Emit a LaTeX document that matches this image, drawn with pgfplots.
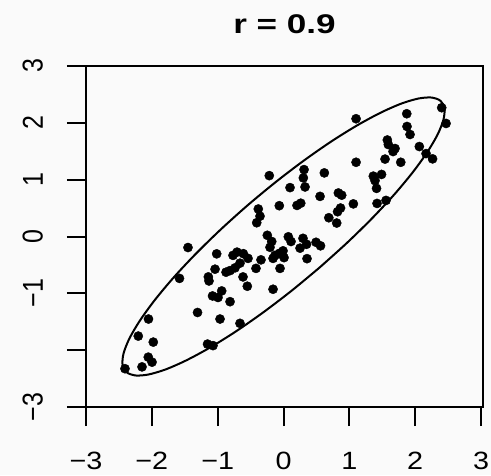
\documentclass[border=0pt]{standalone}
\usepackage{fontspec}
\setmainfont{Liberation Sans}
\usepackage{graphicx}
\usepackage{pgfplots}
\pgfplotsset{compat=1.18}
\definecolor{bg}{RGB}{250,250,250}

% tick labels are drawn slightly wide, as in R's device output
\newcommand{\xl}[1]{\scalebox{1.15}[1]{#1}}
\newcommand{\yl}[1]{\scalebox{1}[1.15]{#1}}

\begin{document}
\begin{tikzpicture}
\fill[bg] (0pt,0pt) rectangle (491pt,475pt);
\useasboundingbox (0pt,0pt) rectangle (491pt,475pt);
\node[anchor=base, inner sep=0pt, font=\fontsize{27}{32}\selectfont\bfseries]
  at (284.5pt,441.7pt) {\scalebox{1.3}[1]{r = 0.9}};
\begin{axis}[
  at={(86pt,68pt)}, anchor=south west,
  scale only axis, width=397pt, height=341pt,
  xmin=-3, xmax=3.03, ymin=-3, ymax=3,
  axis line style={line width=2.2pt, black},
  tick pos=left, tick align=outside,
  major tick length=19pt,
  every tick/.append style={line width=2pt, black},
  xtick={-3,-2,-1,0,1,2,3},
  ytick={-3,-2,-1,0,1,2,3},
  xticklabels={\xl{−3},\xl{−2},\xl{−1},\xl{0},\xl{1},\xl{2},\xl{3}},
  yticklabels={\yl{−3},,\yl{−1},\yl{0},\yl{1},\yl{2},\yl{3}},
  tick label style={font=\fontsize{25}{30}\selectfont, inner sep=0pt},
  xticklabel style={anchor=north},
  yticklabel style={rotate=90, anchor=south},
  xticklabel shift=26pt,
  yticklabel shift=24pt,
  clip=false,
]
% 95% normal-theory ellipse for r = 0.9
\addplot[black, line width=2pt, smooth] coordinates {
  (0.547,-0.547) (0.124,-0.953) (-0.302,-1.330) (-0.719,-1.667)
  (-1.115,-1.953) (-1.476,-2.179) (-1.793,-2.340) (-2.055,-2.429)
  (-2.255,-2.445) (-2.386,-2.386) (-2.445,-2.255) (-2.429,-2.055)
  (-2.340,-1.793) (-2.179,-1.476) (-1.953,-1.115) (-1.667,-0.719)
  (-1.330,-0.302) (-0.953,0.124) (-0.547,0.547) (-0.124,0.953)
  (0.302,1.330) (0.719,1.667) (1.115,1.953) (1.476,2.179)
  (1.793,2.340) (2.055,2.429) (2.255,2.445) (2.386,2.386)
  (2.445,2.255) (2.429,2.055) (2.340,1.793) (2.179,1.476)
  (1.953,1.115) (1.667,0.719) (1.330,0.302) (0.953,-0.124)
  (0.547,-0.547)
};
% sample points
\addplot[only marks, mark=*, mark size=4.6pt, black] coordinates {
  (-2.408,-2.326) (-2.149,-2.294) (-2.054,-2.123) (-1.997,-2.211)
  (-1.978,-1.858) (-2.206,-1.752) (-2.051,-1.452) (-1.580,-0.737)
  (-1.451,-0.194) (-1.306,-1.337) (-1.154,-1.893) (-1.071,-1.920)
  (-0.964,-1.452) (-0.661,-1.528) (-1.015,-0.305) (-1.142,-0.711)
  (-1.132,-0.782) (-1.040,-0.575) (-1.078,-1.046) (-0.995,-1.073)
  (-0.939,-0.958) (-0.812,-1.147) (-0.873,-0.628) (-0.812,-0.600)
  (-0.737,-0.552) (-0.661,-0.469) (-0.767,-0.332) (-0.706,-0.275)
  (-0.610,-0.302) (-0.539,-0.385) (-0.615,-0.711) (-0.550,-0.875)
  (-0.418,-0.561) (-0.342,-0.411) (-0.159,-0.928) (-0.053,-0.561)
  (-0.407,0.242) (-0.357,0.357) (-0.383,0.484) (-0.246,0.021)
  (-0.179,-0.088) (-0.205,-0.190) (0.073,-0.005) (0.114,-0.088)
  (0.296,-0.032) (0.350,-0.137) (0.251,-0.205) (0.494,-0.102)
  (0.562,-0.164) (-0.007,-0.252) (-0.061,-0.296) (-0.129,-0.332)
  (-0.159,-0.385) (0.008,-0.372) (0.357,-0.390)
  (-0.216,1.071) (0.312,1.177) (0.301,1.031) (0.327,0.872)
  (0.620,1.119) (0.099,0.860) (0.555,0.706) (-0.064,0.542)
  (0.205,0.547) (0.262,0.586) (0.688,0.330) (0.866,0.501)
  (0.821,0.436) (0.808,0.237) (0.833,0.766) (0.884,0.727)
  (1.061,0.574) (1.102,1.306) (1.102,2.072) (1.364,1.062)
  (1.489,1.092) (1.390,0.983) (1.413,0.847) (1.421,0.582)
  (1.557,0.635) (1.577,1.698) (1.592,1.618) (1.694,1.548)
  (1.664,1.495) (1.542,1.362) (1.781,1.306) (1.872,2.160)
  (1.876,1.936) (1.922,1.795) (2.063,1.583) (2.165,1.459)
  (2.264,1.366) (2.403,2.266) (2.469,1.989)
};
\end{axis}
\end{tikzpicture}
\end{document}
